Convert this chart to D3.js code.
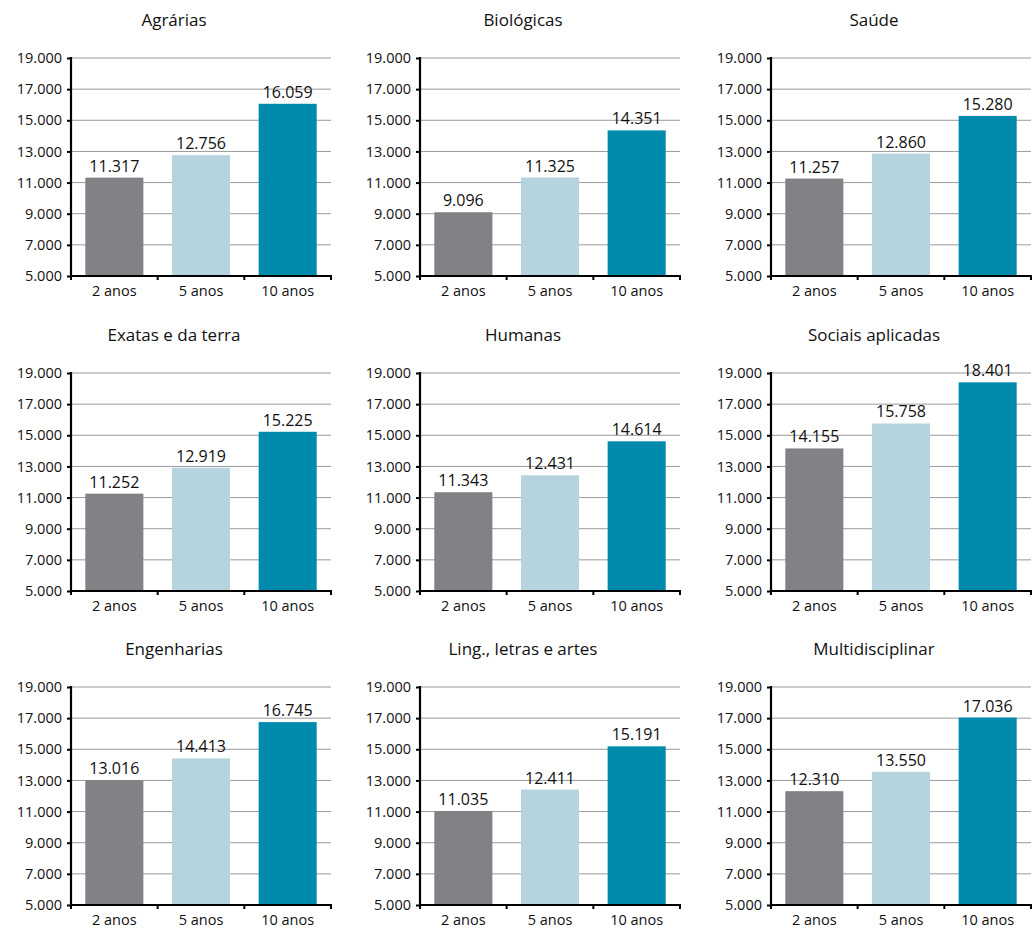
<!DOCTYPE html>
<html><head><meta charset="utf-8">
<script src="https://cdn.jsdelivr.net/npm/d3@7"></script>
<style>body{margin:0;background:#fff;} svg{display:block;font-family:"Open Sans",sans-serif;}</style>
</head><body>
<svg id="c" width="1034" height="931"></svg>
<script>
const areas = ["Agrárias","Biológicas","Saúde","Exatas e da terra","Humanas","Sociais aplicadas","Engenharias","Ling., letras e artes","Multidisciplinar"];
const periods = ["2 anos","5 anos","10 anos"];
const vals2 = [11317, 9096, 11257, 11252, 11343, 14155, 13016, 11035, 12310];
const vals5 = [12756, 11325, 12860, 12919, 12431, 15758, 14413, 12411, 13550];
const vals10 = [16059, 14351, 15280, 15225, 14614, 18401, 16745, 15191, 17036];
const yTicks = [5000, 7000, 9000, 11000, 13000, 15000, 17000, 19000];
const colors = ["#808285", "#b6d4de", "#008bad"];

const svg = d3.select("#c");
const colX = [71, 420, 771];
const rowY = [58, 373, 687];
const W = 260, H = 218;
const fmt = v => d3.format(",")(v).replace(/,/g, ".");

areas.forEach((name, i) => {
  const x0 = colX[i % 3], y0 = rowY[Math.floor(i / 3)];
  const g = svg.append("g").attr("transform", `translate(${x0},${y0})`);
  const y = d3.scaleLinear().domain([5000, 19000]).range([H, 0]);
  const x = d3.scaleBand().domain(periods).range([0, W]).paddingInner(0.33).paddingOuter(0.165);
  const data = [vals2[i], vals5[i], vals10[i]];

  g.selectAll("line.grid").data(yTicks.slice(1)).enter().append("line")
    .attr("x1", 0).attr("x2", W).attr("y1", d => y(d)).attr("y2", d => y(d))
    .attr("stroke", "#9a9a9a").attr("stroke-width", 1);

  g.selectAll("rect").data(data).enter().append("rect")
    .attr("x", (d, j) => x(periods[j])).attr("width", x.bandwidth())
    .attr("y", d => y(d)).attr("height", d => H - y(d))
    .attr("fill", (d, j) => colors[j]);

  g.selectAll("text.val").data(data).enter().append("text")
    .attr("x", (d, j) => x(periods[j]) + x.bandwidth() / 2).attr("y", d => y(d) - 6)
    .attr("text-anchor", "middle").attr("font-size", 16).attr("fill", "#111").text(fmt);

  const ya = g.append("g").call(d3.axisLeft(y).tickValues(yTicks).tickSize(4).tickPadding(5).tickFormat(fmt));
  ya.select(".domain").remove();
  ya.selectAll(".tick line").attr("stroke", "#000").attr("stroke-width", 2);
  ya.selectAll("text").attr("font-size", 14.5).attr("fill", "#111").attr("font-family", "Open Sans");
  g.append("line").attr("x1", 0).attr("x2", 0).attr("y1", -1).attr("y2", H + 1).attr("stroke", "#000").attr("stroke-width", 2.2);

  g.append("line").attr("x1", -1).attr("x2", W + 1).attr("y1", H).attr("y2", H).attr("stroke", "#000").attr("stroke-width", 2.2);
  const bounds = [0, x.step(), 2 * x.step(), W];
  g.selectAll("line.xt").data(bounds).enter().append("line")
    .attr("x1", d => d).attr("x2", d => d).attr("y1", H).attr("y2", H + 4)
    .attr("stroke", "#000").attr("stroke-width", 2);
  g.selectAll("text.cat").data(periods).enter().append("text")
    .attr("x", d => x(d) + x.bandwidth() / 2).attr("y", H + 20)
    .attr("text-anchor", "middle").attr("font-size", 14.5).attr("fill", "#111").text(d => d);

  g.append("text").attr("x", 103).attr("y", -32).attr("text-anchor", "middle")
    .attr("font-size", 17).attr("fill", "#111").text(name);
});
</script>
</body></html>
